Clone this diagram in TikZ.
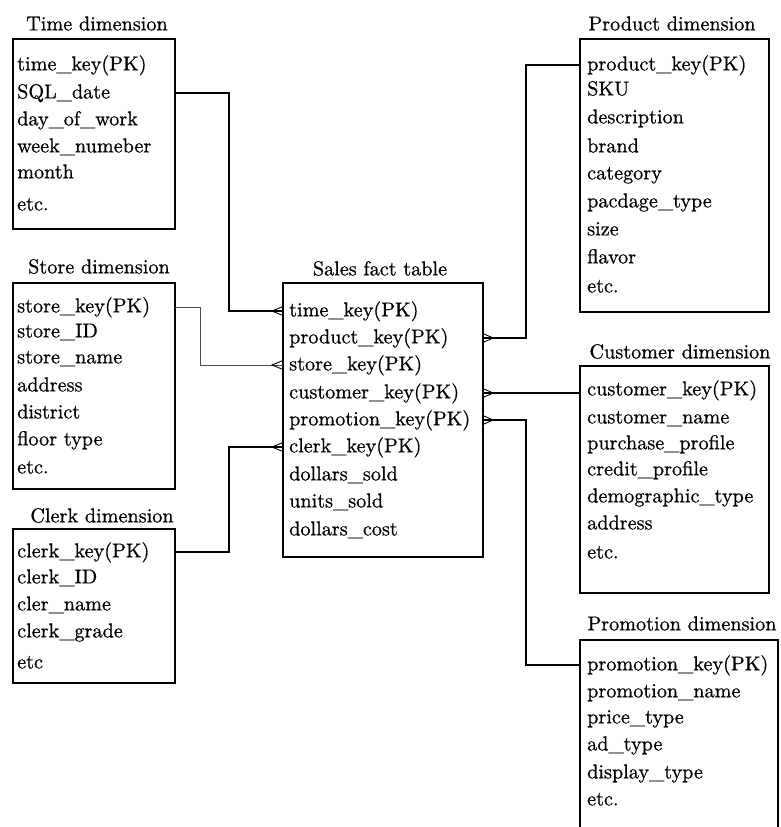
\documentclass[tikz,border=0pt]{standalone}
\usepackage{fontspec}
\newfontfamily\tabfont{lmroman10-regular.otf}[UprightFeatures={FakeBold=0.7}]
\begin{document}
\begin{tikzpicture}[x=1pt,y=-1pt,
  box/.style={draw, line width=1.3pt, inner sep=0pt, outer sep=0pt, anchor=north west},
  openbox/.style={inner sep=0pt, outer sep=0pt, anchor=north west},
  field/.style={anchor=west, inner sep=0pt, font=\tabfont\fontsize{20.2}{27}\selectfont},
  title/.style={inner sep=0pt, font=\tabfont\fontsize{20.2}{27}\selectfont},
  link/.style={line width=1.3pt},
  thinlink/.style={line width=0.9pt, black!70},
  crow/.style={line width=0.9pt}]
\useasboundingbox (0,0) rectangle (781,827);

% ---- Time dimension ----
\node[title] (ttitle) at (97,25) {\strut Time dimension};
\node[box, minimum width=162pt, minimum height=190pt] (tbox) at (13,39) {};
\foreach \t/\y [count=\i] in {time\_key(PK)/65, SQL\_date/93, day\_of\_work/120,
    week\_numeber/147, month/173, etc./205}
  \node[field] (t\i) at (17,\y) {\strut\t};

% ---- Store dimension ----
\node[title] (stitle) at (99,268) {\strut Store dimension};
\node[box, minimum width=162pt, minimum height=206pt] (sbox) at (13,283) {};
\foreach \t/\y [count=\i] in {store\_key(PK)/307, store\_ID/332, store\_name/358,
    address/386, district/413, floor type/440, etc./468}
  \node[field] (s\i) at (17,\y) {\strut\t};

% ---- Clerk dimension ----
\node[title] (ctitle) at (102,517) {\strut Clerk dimension};
\node[box, minimum width=162pt, minimum height=154pt] (cbox) at (13,529) {};
\foreach \t/\y [count=\i] in {clerk\_key(PK)/552, clerk\_ID/578, cler\_name/605,
    clerk\_grade/632, etc/663}
  \node[field] (c\i) at (17,\y) {\strut\t};

% ---- Sales fact table ----
\node[title] (ftitle) at (380,270) {\strut Sales fact table};
\node[box, minimum width=200pt, minimum height=274pt] (fbox) at (283,283) {};
\foreach \t/\y [count=\i] in {time\_key(PK)/311, product\_key(PK)/338, store\_key(PK)/365,
    customer\_key(PK)/393, promotion\_key(PK)/420, clerk\_key(PK)/447,
    dollars\_sold/475, units\_sold/502, dollars\_cost/530}
  \node[field] (f\i) at (289,\y) {\strut\t};

% ---- Product dimension ----
\node[title] (ptitle) at (672,25) {\strut Product dimension};
\node[box, minimum width=189pt, minimum height=273pt] (pbox) at (580,39) {};
\foreach \t/\y [count=\i] in {product\_key(PK)/65, SKU/90, description/118, brand/147,
    category/174, pacdage\_type/202, size/230, flavor/258, etc./287}
  \node[field] (p\i) at (587,\y) {\strut\t};

% ---- Customer dimension ----
\node[title] (utitle) at (680,353) {\strut Customer dimension};
\node[box, minimum width=189pt, minimum height=227pt] (ubox) at (580,366) {};
\foreach \t/\y [count=\i] in {customer\_key(PK)/390, customer\_name/418,
    purchase\_profile/444, credit\_profile/470, demographic\_type/497,
    address/524, etc./553}
  \node[field] (u\i) at (587,\y) {\strut\t};

% ---- Promotion dimension (runs past the lower edge) ----
\node[title] (mtitle) at (682,625) {\strut Promotion dimension};
\node[openbox, minimum width=198pt, minimum height=187pt] (mbox) at (580,640) {};
\draw[link] (mbox.south west) -- (mbox.north west) -- (mbox.north east) -- (mbox.south east);
\foreach \t/\y [count=\i] in {promotion\_key(PK)/665, promotion\_name/692,
    price\_type/718, ad\_type/745, display\_type/773, etc./800}
  \node[field] (m\i) at (587,\y) {\strut\t};

% ---- Connectors ----
\draw[link] (tbox.east |- t2) -- ++(54,0) |- (fbox.west |- f1);
\draw[thinlink] (sbox.east |- s1) -- ++(25,0) |- (fbox.west |- f3);
\draw[link] (cbox.east |- c1) -- ++(54,0) |- (fbox.west |- f6);
\draw[link] (pbox.west |- p1) -- ++(-54,0) |- (fbox.east |- f2);
\draw[link] (fbox.east |- f4) -- (ubox.west |- f4);
\draw[link] (mbox.west |- m1) -- ++(-54,0) |- (fbox.east |- f5);

% ---- Crow's feet on the fact table ----
\foreach \r in {f1,f3,f6}
  \draw[crow] (fbox.west |- \r) ++(0,-4.5) -- ++(-11,4.5) -- ++(11,4.5);
\foreach \r in {f2,f4,f5}
  \draw[crow] (fbox.east |- \r) ++(0,-4.5) -- ++(10,4.5) -- ++(-10,4.5);
\end{tikzpicture}
\end{document}
